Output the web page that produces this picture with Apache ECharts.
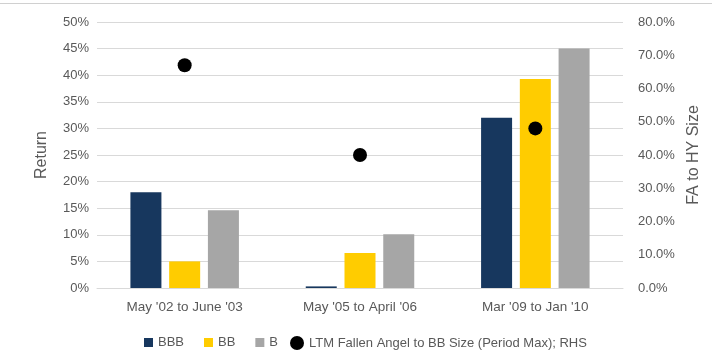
<!DOCTYPE html>
<html>
<head>
<meta charset="utf-8">
<script src="https://cdn.jsdelivr.net/npm/echarts@6/dist/echarts.min.js"></script>
<style>
  html, body { margin: 0; padding: 0; background: #fff; }
  #chart { width: 712px; height: 352px; }
</style>
</head>
<body>
<div id="chart"></div>
<script>
// periods
const categories = ["May '02 to June '03", "May '05 to April '06", "Mar '09 to Jan '10"];
// returns, %
const bbb = [18, 0.3, 32];
const bb = [5, 6.6, 39.3];
const b = [14.6, 10.1, 45];
// fallen angel to BB size, % (right axis)
const faSize = [67, 40, 48];

const leftTicks = { min: 0, max: 50, interval: 5 };
const rightTicks = { min: 0, max: 80, interval: 10 };

const font = "Liberation Sans";
const labelColor = "#595959";

const chart = echarts.init(document.getElementById("chart"));

chart.setOption({
  animation: false,
  textStyle: { fontFamily: font },
  graphic: [
    {
      type: "line",
      shape: { x1: 0, y1: 3.5, x2: 712, y2: 3.5 },
      style: { stroke: "#d0d0d0", lineWidth: 1 },
    },
  ],
  grid: { left: 97, right: 89, top: 22, bottom: 64 },
  legend: [
    {
      left: 144,
      top: 336,
      padding: 0,
      itemWidth: 9,
      itemHeight: 9,
      itemGap: 20,
      icon: "rect",
      textStyle: { color: labelColor, fontSize: 13, fontFamily: font },
      data: ["BBB", "BB", "B"],
    },
    {
      left: 290,
      top: 336,
      padding: 0,
      itemWidth: 14,
      itemHeight: 14,
      icon: "circle",
      textStyle: { color: labelColor, fontSize: 13, fontFamily: font },
      data: ["LTM Fallen Angel to BB Size (Period Max); RHS"],
    },
  ],
  xAxis: {
    type: "category",
    data: categories,
    axisTick: { show: false },
    axisLine: { lineStyle: { color: "#d9d9d9" } },
    axisLabel: { color: labelColor, fontSize: 13.5, margin: 12 },
  },
  yAxis: [
    {
      type: "value",
      min: leftTicks.min,
      max: leftTicks.max,
      interval: leftTicks.interval,
      name: "Return",
      nameLocation: "middle",
      nameGap: 47,
      nameTextStyle: { color: labelColor, fontSize: 16 },
      axisLine: { show: false },
      axisTick: { show: false },
      axisLabel: { color: labelColor, fontSize: 13, formatter: "{value}%" },
      splitLine: { lineStyle: { color: "#d9d9d9" } },
    },
    {
      type: "value",
      min: rightTicks.min,
      max: rightTicks.max,
      interval: rightTicks.interval,
      name: "FA to HY Size",
      nameLocation: "middle",
      nameGap: 60,
      nameRotate: 90,
      nameTextStyle: { color: labelColor, fontSize: 16 },
      axisLine: { show: false },
      axisTick: { show: false },
      axisLabel: {
        color: labelColor,
        fontSize: 13,
        margin: 15,
        formatter: function (v) {
          return v.toFixed(1) + "%";
        },
      },
      splitLine: { show: false },
    },
  ],
  series: [
    {
      name: "BBB",
      type: "bar",
      barWidth: 31,
      barGap: "25%",
      itemStyle: { color: "#17375e" },
      data: bbb,
    },
    {
      name: "BB",
      type: "bar",
      barWidth: 31,
      itemStyle: { color: "#ffcc00" },
      data: bb,
    },
    {
      name: "B",
      type: "bar",
      barWidth: 31,
      itemStyle: { color: "#a6a6a6" },
      data: b,
    },
    {
      name: "LTM Fallen Angel to BB Size (Period Max); RHS",
      type: "scatter",
      yAxisIndex: 1,
      symbol: "circle",
      symbolSize: 14,
      itemStyle: { color: "#000", opacity: 1 },
      data: faSize,
    },
  ],
});
</script>
</body>
</html>
